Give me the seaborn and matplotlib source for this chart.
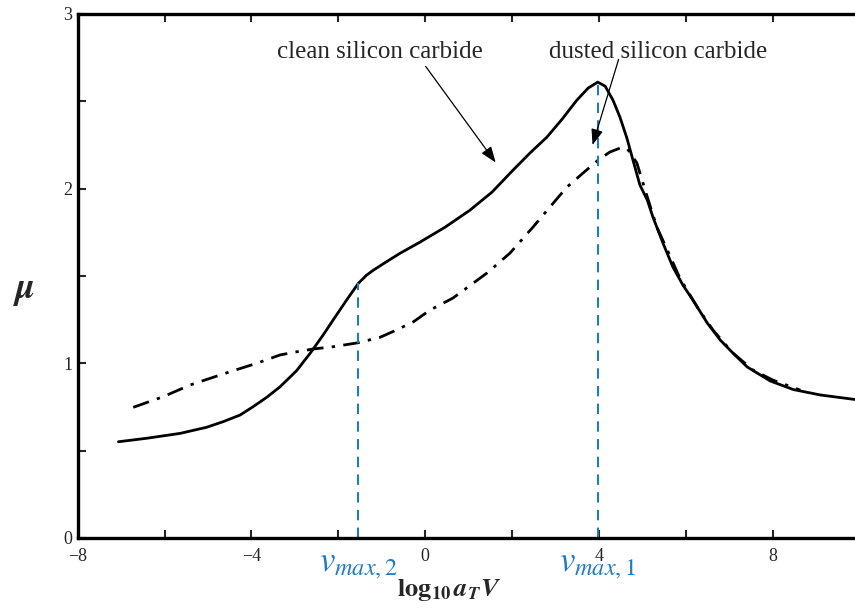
import matplotlib
matplotlib.use("Agg")
import matplotlib.pyplot as plt
import seaborn as sns
import pandas as pd

# Friction coefficient mu against log10(a_T V), clean and dusted silicon carbide
clean_x = [-7.06, -6.41, -5.64, -5.03, -4.65, -4.26, -3.96, -3.65, -3.34, -2.96, -2.65,
           -2.35, -2.12, -1.81, -1.54, -1.35, -1.19, -0.89, -0.58, -0.12, 0.46, 1.03,
           1.54, 2.02, 2.41, 2.80, 3.15, 3.49, 3.75, 3.97, 4.14, 4.32, 4.48, 4.64, 4.78,
           4.94, 5.11, 5.24, 5.47, 5.70, 5.93, 6.16, 6.49, 6.79, 7.08, 7.41, 7.94, 8.47,
           9.09, 9.89]
clean_mu = [0.551, 0.571, 0.599, 0.634, 0.666, 0.704, 0.752, 0.805, 0.866, 0.958, 1.057,
            1.162, 1.248, 1.362, 1.458, 1.505, 1.534, 1.582, 1.630, 1.694, 1.780, 1.877,
            1.981, 2.106, 2.204, 2.295, 2.398, 2.507, 2.576, 2.610, 2.587, 2.507, 2.410,
            2.290, 2.164, 2.021, 1.935, 1.837, 1.689, 1.551, 1.448, 1.362, 1.231, 1.133,
            1.059, 0.979, 0.899, 0.850, 0.819, 0.793]

dusted_x = [-6.72, -6.03, -5.41, -4.88, -4.49, -3.88, -3.34, -2.96, -2.58, -2.12, -1.54,
            -1.04, -0.66, -0.27, 0.11, 0.64, 1.42, 1.95, 2.48, 2.87, 3.26, 3.63, 3.98,
            4.25, 4.48, 4.64, 4.78, 4.87, 5.06, 5.33, 5.57, 5.86, 6.26, 6.62, 7.08, 7.54,
            8.00, 8.63]
dusted_mu = [0.748, 0.809, 0.876, 0.920, 0.952, 1.000, 1.048, 1.066, 1.082, 1.095, 1.118,
             1.149, 1.191, 1.238, 1.305, 1.374, 1.517, 1.631, 1.780, 1.895, 2.009, 2.089,
             2.164, 2.210, 2.232, 2.232, 2.181, 2.147, 1.992, 1.780, 1.649, 1.488, 1.322,
             1.191, 1.059, 0.962, 0.904, 0.847]

x_ticks = [-8, -4, 0, 4, 8]
x_minor = [-6, -2, 2, 6]
y_ticks = [0, 1, 2, 3]
y_minor = [0.5, 1.5, 2.5]

# characteristic velocities: main friction peak and the shoulder
v_max = [3.97, -1.54]
v_max_mu = [2.610, 1.458]
v_max_labels = [r"$v_{max,1}$", r"$v_{max,2}$"]

sns.set_theme(style="white")
plt.rcParams["font.family"] = ["Liberation Serif", "DejaVu Serif"]
plt.rcParams["mathtext.fontset"] = "stix"

fig = plt.figure(figsize=(8.55, 6.10), dpi=100)
ax = fig.add_axes([77.6 / 855, 72 / 610, 777.4 / 855, 524 / 610])

clean = pd.DataFrame({"x": clean_x, "mu": clean_mu})
dusted = pd.DataFrame({"x": dusted_x, "mu": dusted_mu})

sns.lineplot(data=clean, x="x", y="mu", ax=ax, color="black", lw=2.0, sort=False)
sns.lineplot(data=dusted, x="x", y="mu", ax=ax, color="black", lw=2.0, sort=False,
             linestyle=(0, (6, 3, 1.2, 3)))

blue = "#1E7BC6"
for vx, vy, lab in zip(v_max, v_max_mu, v_max_labels):
    ax.plot([vx, vx], [0, vy], color=blue, lw=1.5, linestyle=(0, (5, 3.5)))
    ax.text(vx, -0.055, lab, color=blue, fontsize=25, ha="center", va="top")

ax.set_xlim(-8, 9.89)
ax.set_ylim(0, 3)
ax.set_xticks(x_ticks)
ax.set_xticks(x_minor, minor=True)
ax.set_yticks(y_ticks)
ax.set_yticks(y_minor, minor=True)
ax.tick_params(axis="both", which="both", direction="in", length=6, width=1.5,
               labelsize=13, top=True, bottom=True, left=True, right=False)
ax.tick_params(axis="x", pad=7)
ax.tick_params(axis="y", pad=4)
ax.set_xlabel("")
ax.set_ylabel("")

for side in ["left", "top", "bottom"]:
    ax.spines[side].set_linewidth(2.4)
    ax.spines[side].set_color("black")
ax.spines["right"].set_visible(False)

fig.text(449 / 855, 1 - 590 / 610,
         r"$\mathbf{log}_{\mathbf{10}}\,\mathbfit{a}_{\mathbfit{T}}\mathbfit{V}$",
         fontsize=19, ha="center", va="center")
fig.text(24 / 855, 1 - 292 / 610, r"$\mathbfit{\mu}$", fontsize=26,
         ha="center", va="center")

arrow = dict(arrowstyle="-|>,head_length=0.8,head_width=0.3", color="black",
             lw=0.9, shrinkA=0, shrinkB=0)
ax.text(-1.05, 2.785, "clean silicon carbide", fontsize=18, ha="center", va="center")
ax.annotate("", xy=(1.62, 2.15), xytext=(0.01, 2.70), arrowprops=arrow)
ax.text(5.35, 2.785, "dusted silicon carbide", fontsize=18, ha="center", va="center")
ax.annotate("", xy=(3.85, 2.25), xytext=(4.45, 2.74), arrowprops=arrow)

fig.savefig("out.png", dpi=100)
